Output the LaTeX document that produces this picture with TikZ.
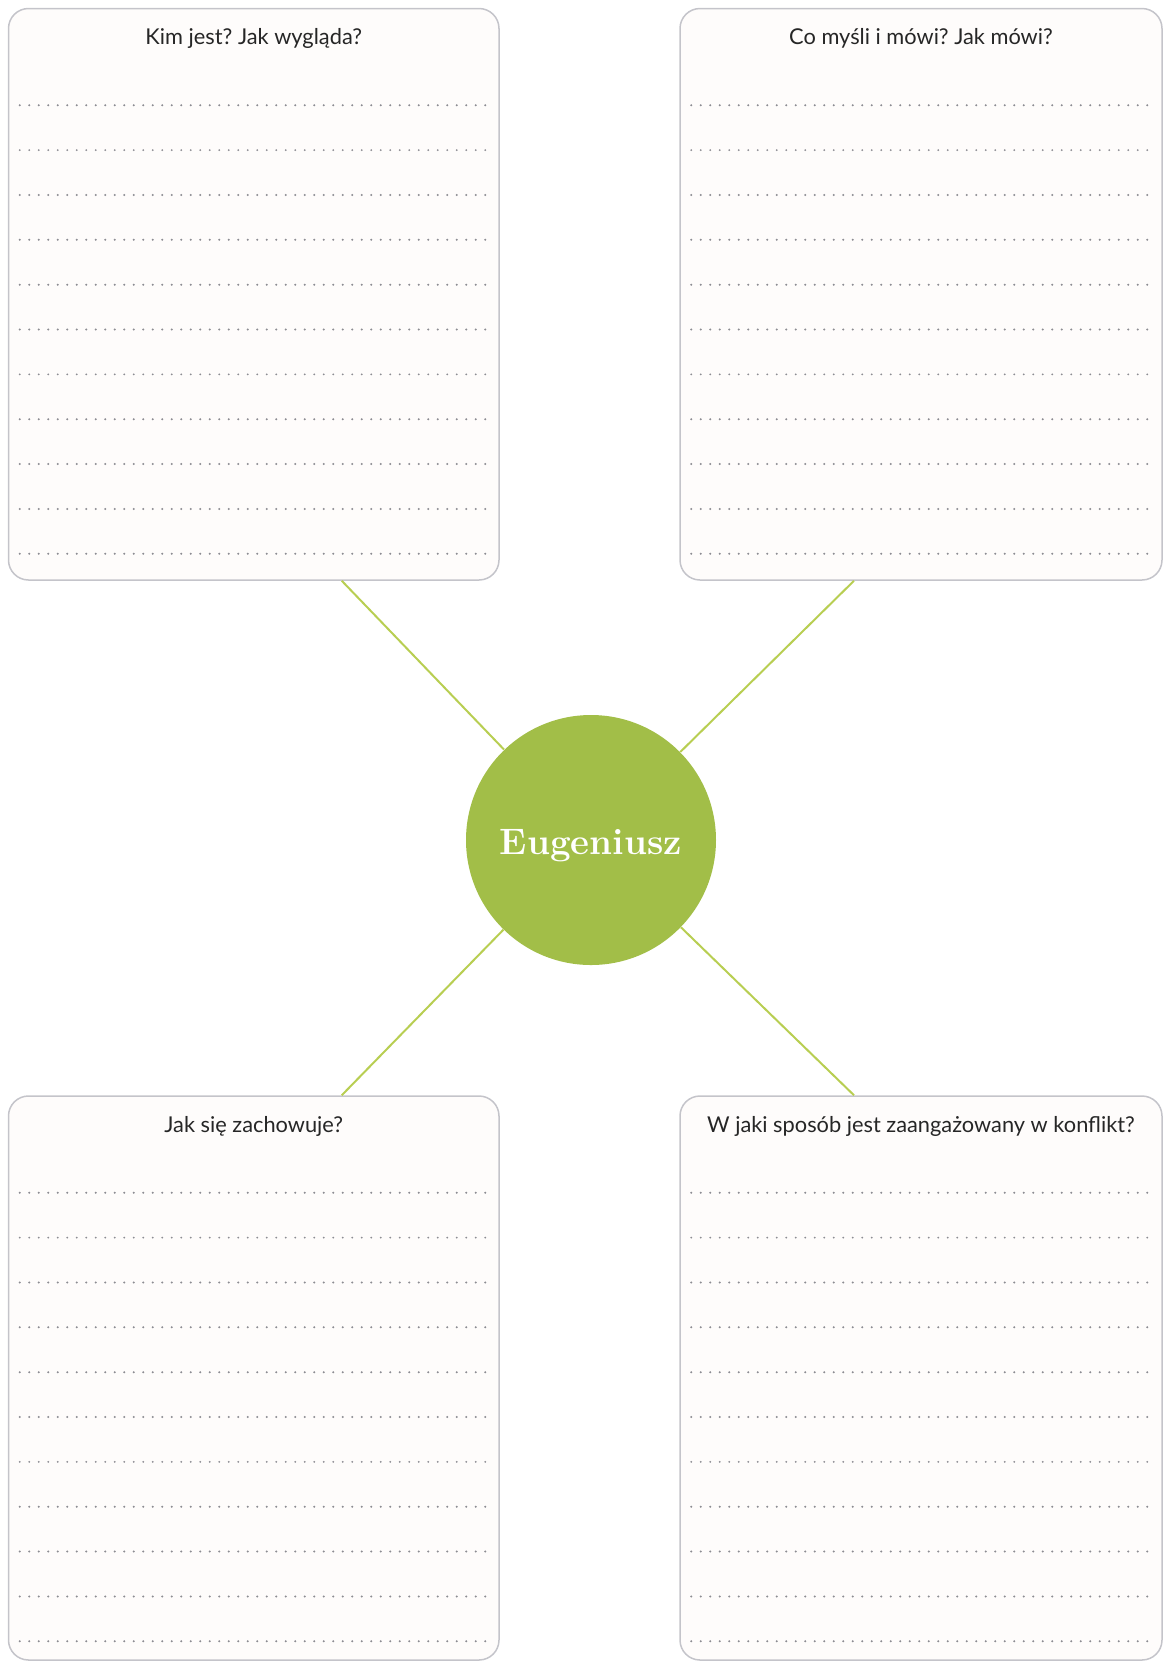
\documentclass[tikz,border=0pt]{standalone}
\usepackage{fontspec}
\setsansfont{Lato}
\usepackage{tikz}
\usetikzlibrary{calc,positioning}
\frenchspacing
\definecolor{leaf}{RGB}{162,190,72}
\definecolor{twig}{RGB}{184,206,82}
\definecolor{frame}{RGB}{196,196,202}
\definecolor{paper}{RGB}{254,252,251}
\definecolor{dotgray}{RGB}{140,140,146}
\tikzstyle{card} =
  [rectangle, draw=frame, line width=0.75pt, fill=paper,
   rounded corners=10pt, inner sep=0pt]
\tikzstyle{heading} =
  [font=\sffamily\fontsize{10.9}{12}\selectfont, text=black!85, anchor=base]
\tikzstyle{hub} =
  [circle, fill=leaf, minimum size=125pt, inner sep=0pt,
   font=\bfseries\fontsize{18.4}{20}\selectfont, text=white]
\tikzstyle{branch}=[draw=twig,line width=1pt]
\tikzstyle{writeline} =
  [draw=dotgray, line width=1.1pt, line cap=round, dash pattern=on 0pt off 4.75pt]

\begin{document}
\begin{tikzpicture}[x=0.5pt, y=-0.5pt]
  \useasboundingbox (0,0) rectangle (1165,1662);
  \node [card, minimum width=245.25pt, minimum height=285.75pt] (kim) at (253.75,294.25) {};
  \node [card, minimum width=241pt, minimum height=285.75pt] (co) at (921,294.25) {};
  \node [card, minimum width=245.25pt, minimum height=282pt] (jak) at (253.75,1378) {};
  \node [card, minimum width=241pt, minimum height=282pt] (konf) at (921,1378) {};

  \node [heading] (kimt) at ([yshift=-18.5pt]kim.north) {Kim jest? Jak wygląda?};
  \node [heading] (cot) at ([yshift=-18.5pt]co.north) {Co myśli i mówi? Jak mówi?};
  \node [heading] (jakt) at ([yshift=-18.5pt]jak.north) {Jak się zachowuje?};
  \node [heading] (konft) at ([yshift=-18.5pt]konf.north) {W jaki sposób jest zaangażowany w konflikt?};

  % dotted lines to write on
  \foreach \crd in {kim,co,jak,konf}
    \foreach \i in {0,...,10}
      \draw [writeline] ($(\crd.north west)+(12,97.5+\i*44.85)$)
        -- ($(\crd.north east)+(-12,97.5+\i*44.85)$);

  \node [hub] (eug) at (591,840) {};
  \node [text=white, font=\bfseries\fontsize{18.4}{20}\selectfont] (eugt)
    at ([yshift=-2.7pt]eug.center) {Eugeniusz};

  \coordinate (kimfoot) at ([xshift=44pt]kim.south);
  \coordinate (cofoot) at ([xshift=-33.5pt]co.south);
  \coordinate (jakhead) at ([xshift=44pt]jak.north);
  \coordinate (konfhead) at ([xshift=-33.5pt]konf.north);
  \draw [branch] (kimfoot) -- (eug);
  \draw [branch] (cofoot) -- (eug);
  \draw [branch] (jakhead) -- (eug);
  \draw [branch] (konfhead) -- (eug);
\end{tikzpicture}
\end{document}
